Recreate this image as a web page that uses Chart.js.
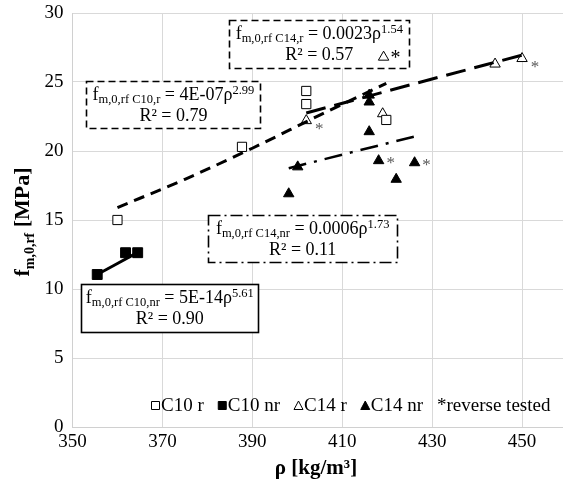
<!DOCTYPE html>
<html><head><meta charset="utf-8">
<script src="https://cdn.jsdelivr.net/npm/chart.js@4/dist/chart.umd.min.js"></script>
<style>
html,body{margin:0;padding:0;overflow:hidden;background:#fff;width:563px;height:486px}
#wrap{position:absolute;left:0;top:0;width:575px;height:486px}
</style></head>
<body><div id="wrap"><canvas id="c" width="575" height="486"></canvas></div>
<script>
// ---- data ----
const xTicks = [350, 370, 390, 410, 430, 450];
const yTicks = [0, 5, 10, 15, 20, 25, 30];

const c10r_x = [360, 387.7, 402, 402, 419.8];
const c10r_y = [15.0, 20.3, 24.35, 23.4, 22.25];

const c10nr_x = [355.5, 361.8, 364.5];
const c10nr_y = [11.05, 12.63, 12.63];

const c14r_x = [402, 419, 444, 450, 419.2];
const c14r_y = [22.2, 22.7, 26.3, 26.7, 26.8];
const c14r_rev = [1, 0, 0, 1, 2];   // 1 = small grey star, 2 = star written in the label box

const c14nr_x = [398.1, 400.1, 416, 416, 416, 418.1, 422, 426.1];
const c14nr_y = [16.9, 18.85, 24.05, 23.55, 21.4, 19.3, 17.95, 19.15];
const c14nr_rev = [0, 0, 0, 0, 0, 1, 0, 1];

// trendlines
const trC10r_x = [360, 375, 390, 405, 419.8];
const trC10r_y = [15.9, 17.95, 20.2, 22.6, 24.9];
const trC10nr_x = [355.5, 364.5];
const trC10nr_y = [11.05, 12.65];
const trC14r_x = [402, 426, 450];
const trC14r_y = [22.75, 24.87, 26.95];
const trC14nr_x = [398.1, 412, 426.1];
const trC14nr_y = [18.75, 19.9, 21.05];

const legendLabels = ['C10 r', 'C10 nr', 'C14 r', 'C14 nr'];
const legendNote = '*reverse tested';

// trendline equation labels
const eqSubs = ['m,0,rf C14,r', 'm,0,rf C10,r', 'm,0,rf C14,nr', 'm,0,rf C10,nr'];
const eqCoefs = ['0.0023', '4E-07', '0.0006', '5E-14'];
const eqExps = ['1.54', '2.99', '1.73', '5.61'];
const eqR2 = ['0.57', '0.79', '0.11', '0.90'];

// ---- helpers ----
const SERIF = '"Liberation Serif", "Times New Roman", serif';
const pts = (xs, ys) => xs.map((x, i) => ({x, y: ys[i]}));

function drawParts(ctx, parts, x, y) {
  let cx = x;
  for (const p of parts) {
    ctx.font = (p.bold ? 'bold ' : '') + p.size + 'px ' + SERIF;
    ctx.fillText(p.t, cx, y + (p.dy || 0));
    cx += ctx.measureText(p.t).width;
  }
  return cx;
}
function partsWidth(ctx, parts) {
  let w = 0;
  for (const p of parts) {
    ctx.font = (p.bold ? 'bold ' : '') + p.size + 'px ' + SERIF;
    w += ctx.measureText(p.t).width;
  }
  return w;
}

// box layout (data coordinates) and styles
const boxDefs = [
  {x0: 384.9, x1: 424.9, yTop: 29.49, h: 48, dash: [7, 4]},
  {x0: 353.1, x1: 391.8, yTop: 25.07, h: 47, dash: [7, 4]},
  {x0: 380.2, x1: 422.2, yTop: 15.36, h: 47, dash: [12, 4, 2, 4]},
  {x0: 352.0, x1: 391.3, yTop: 10.36, h: 48, dash: []}
];

const overlay = {
  id: 'overlay',
  beforeDatasetsDraw(chart) {
    const ctx = chart.ctx, xs = chart.scales.x, ys = chart.scales.y;
    ctx.save();
    boxDefs.forEach(b => {
      const l = Math.round(xs.getPixelForValue(b.x0)) + 0.5;
      const r = Math.round(xs.getPixelForValue(b.x1)) + 0.5;
      const t = Math.round(ys.getPixelForValue(b.yTop)) + 0.5;
      ctx.fillStyle = '#fff';
      ctx.fillRect(l, t, r - l, b.h);
      ctx.setLineDash(b.dash);
      ctx.lineWidth = 1.6;
      ctx.strokeStyle = '#000';
      ctx.strokeRect(l, t, r - l, b.h);
    });
    ctx.restore();
  },
  afterDatasetsDraw(chart) {
    const ctx = chart.ctx, xs = chart.scales.x, ys = chart.scales.y;
    ctx.save();
    ctx.fillStyle = '#000';
    ctx.textBaseline = 'alphabetic';
    // equation labels
    boxDefs.forEach((b, i) => {
      const l = xs.getPixelForValue(b.x0), r = xs.getPixelForValue(b.x1);
      const t = Math.round(ys.getPixelForValue(b.yTop));
      const cx = (l + r) / 2;
      const line1 = [
        {t: 'f', size: 18},
        {t: eqSubs[i], size: 12.5, dy: 3},
        {t: ' = ' + eqCoefs[i] + 'ρ', size: 18},
        {t: eqExps[i], size: 12.5, dy: -6}
      ];
      const w1 = partsWidth(ctx, line1);
      drawParts(ctx, line1, cx - w1 / 2, t + 19);
      const line2 = [{t: 'R² = ' + eqR2[i], size: 18}];
      const w2 = partsWidth(ctx, line2);
      drawParts(ctx, line2, cx - w2 / 2, t + 40);
    });
    // reverse-tested stars
    ctx.textAlign = 'center';
    c14r_x.forEach((x, i) => {
      if (!c14r_rev[i]) return;
      const px = xs.getPixelForValue(x), py = ys.getPixelForValue(c14r_y[i]);
      if (c14r_rev[i] === 2) {
        ctx.fillStyle = '#000';
        ctx.font = '20px ' + SERIF;
        ctx.fillText('*', px + 12, py + 7);
      } else {
        ctx.fillStyle = '#595959';
        ctx.font = '17px ' + SERIF;
        ctx.fillText('*', px + 13, py + 13);
      }
    });
    ctx.fillStyle = '#595959';
    ctx.font = '17px ' + SERIF;
    c14nr_x.forEach((x, i) => {
      if (!c14nr_rev[i]) return;
      const px = xs.getPixelForValue(x), py = ys.getPixelForValue(c14nr_y[i]);
      ctx.fillText('*', px + 12, py + 7);
    });
    ctx.textAlign = 'left';
    // legend inside plot
    const ly = 405;
    let lx = 151;
    const styles = [['rect', false], ['rect', true], ['tri', false], ['tri', true]];
    ctx.textBaseline = 'middle';
    legendLabels.forEach((lab, i) => {
      const [shape, filled] = styles[i];
      ctx.beginPath();
      ctx.lineWidth = 1;
      ctx.setLineDash([]);
      ctx.strokeStyle = '#000';
      ctx.fillStyle = filled ? '#000' : '#fff';
      if (shape === 'rect') {
        ctx.rect(lx + 0.5, ly - 3.5, 8, 8);
      } else {
        ctx.moveTo(lx + 4.5, ly - 4);
        ctx.lineTo(lx + 9, ly + 4.5);
        ctx.lineTo(lx, ly + 4.5);
        ctx.closePath();
      }
      ctx.fill(); ctx.stroke();
      ctx.fillStyle = '#000';
      ctx.font = '19px ' + SERIF;
      ctx.fillText(lab, lx + 10, ly + 1);
      lx += 10 + ctx.measureText(lab).width + 14;
    });
    ctx.fillText(legendNote, lx, ly + 1);
    // axis titles
    ctx.fillStyle = '#000';
    ctx.textBaseline = 'alphabetic';
    const xt = [{t: 'ρ [kg/m³]', size: 21, bold: true}];
    const xw = partsWidth(ctx, xt);
    drawParts(ctx, xt, 316 - xw / 2, 474);
    ctx.translate(29, 222);
    ctx.rotate(-Math.PI / 2);
    const yt = [
      {t: 'f', size: 22, bold: true},
      {t: 'm,0,rf', size: 14, bold: true, dy: 5},
      {t: ' [MPa]', size: 22, bold: true}
    ];
    const yw = partsWidth(ctx, yt);
    drawParts(ctx, yt, -yw / 2, 0);
    ctx.restore();
  }
};

const trend = (xs, ys, dash, w) => ({
  type: 'line', data: pts(xs, ys), showLine: true, pointRadius: 0,
  borderColor: '#000', borderWidth: w, borderDash: dash, fill: false,
  tension: 0.4, cubicInterpolationMode: 'monotone', order: 0
});
const sc = (xs, ys, style, filled, r) => ({
  type: 'scatter', data: pts(xs, ys), pointStyle: style, pointRadius: r,
  pointHoverRadius: r, backgroundColor: filled ? '#000' : '#fff',
  borderColor: '#000', borderWidth: 1, order: 1
});

new Chart(document.getElementById('c'), {
  type: 'scatter',
  data: {
    datasets: [
      trend(trC10r_x, trC10r_y, [11, 7], 3),
      trend(trC10nr_x, trC10nr_y, [], 3),
      trend(trC14r_x, trC14r_y, [20, 9], 3),
      trend(trC14nr_x, trC14nr_y, [18, 8, 3, 8], 2.5),
      sc(c10r_x, c10r_y, 'rect', false, 6.5),
      sc(c10nr_x, c10nr_y, 'rect', true, 7),
      sc(c14r_x, c14r_y, 'triangle', false, 6),
      sc(c14nr_x, c14nr_y, 'triangle', true, 6)
    ]
  },
  options: {
    responsive: false,
    animation: false,
    events: [],
    layout: {padding: {top: 13, left: 0, right: 0, bottom: 0}},
    plugins: {legend: {display: false}, tooltip: {enabled: false}},
    scales: {
      x: {
        type: 'linear', min: 350, max: 460,
        afterBuildTicks: s => { s.ticks = xTicks.map(v => ({value: v})); },
        afterFit: s => { s.height = 59; },
        grid: {color: '#d9d9d9', lineWidth: 1, drawTicks: false},
        border: {color: '#d0d0d0', width: 1},
        ticks: {padding: 4, color: '#000', font: {family: SERIF, size: 19}, maxRotation: 0}
      },
      y: {
        type: 'linear', min: 0, max: 30,
        afterBuildTicks: s => { s.ticks = yTicks.map(v => ({value: v})); },
        afterFit: s => { s.width = 72.5; s.paddingTop = 0; s.paddingBottom = 0; },
        grid: {color: '#d9d9d9', lineWidth: 1, drawTicks: false},
        border: {color: '#d0d0d0', width: 1},
        ticks: {padding: 9, color: '#000', font: {family: SERIF, size: 19, lineHeight: 0.6}}
      }
    }
  },
  plugins: [overlay]
});
</script>
</body></html>
